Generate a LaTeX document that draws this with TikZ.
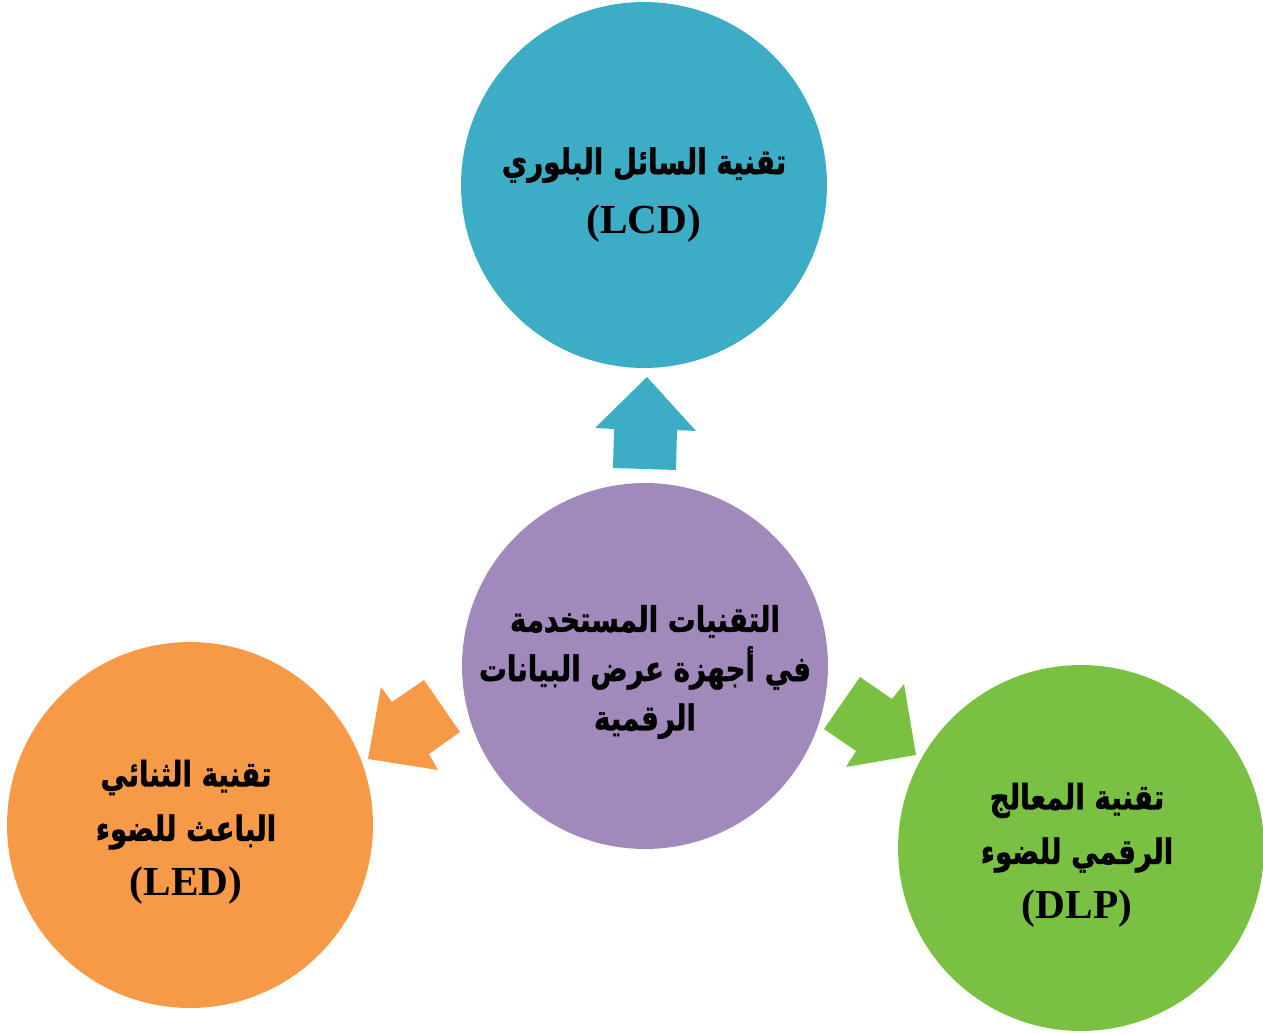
\documentclass[tikz,border=0pt]{standalone}
\usepackage{fontspec}
\TeXXeTstate=1
\newfontfamily\arabicfont[Script=Arabic, FakeStretch=0.79, FakeBold=1.2]{DejaVu Sans}
\newfontfamily\latinfont{Liberation Serif}
\definecolor{cteal}{RGB}{61,173,198}
\definecolor{cpurple}{RGB}{161,137,187}
\definecolor{corange}{RGB}{247,154,72}
\definecolor{cgreen}{RGB}{122,193,67}
\tikzset{
  circ/.style={circle, minimum size=7.32cm, inner sep=0pt},
  txt/.style={align=center, text=black, inner sep=0pt,
    font={\bfseries\fontsize{20}{31}\selectfont}},
}
\newcommand{\AR}[1]{{\arabicfont\bfseries\beginR #1\endR}}
\newcommand{\LT}[1]{{\latinfont\bfseries\fontsize{23.5}{31}\selectfont #1}}
\begin{document}
\begin{tikzpicture}[x=0.02cm,y=-0.02cm]
\useasboundingbox (0,0) rectangle (1263,1033);
% circles
\node[circ, fill=cteal] (lcd) at (644,185) {};
\node[circ, fill=cpurple] (core) at (645,666) {};
\node[circ, fill=corange] (led) at (190,825) {};
\node[circ, fill=cgreen] (dlp) at (1081,848) {};
% texts
\node[txt] (lcdt) at ([yshift=-0.2cm]lcd.center) {\AR{تقنية السائل البلوري}\\[3pt]\LT{(LCD)}};
\node[txt, font={\bfseries\fontsize{20}{28}\selectfont}] (coret) at ([yshift=-0.12cm]core.center)
  {\AR{التقنيات المستخدمة}\\\AR{في أجهزة عرض البيانات}\\\AR{الرقمية}};
\node[txt] (ledt) at ([xshift=-0.08cm,yshift=-0.14cm]led.center) {\AR{تقنية الثنائي}\\\AR{الباعث للضوء}\\\LT{(LED)}};
\node[txt] (dlpt) at ([xshift=-0.08cm,yshift=-0.14cm]dlp.center) {\AR{تقنية المعالج}\\\AR{الرقمي للضوء}\\\LT{(DLP)}};
% block arrows
\fill[cteal] (613,468) -- (614,429) -- (595,428) -- (647,377) -- (696,431) -- (677,430) -- (676,470) -- cycle;
\fill[corange] (460,732) -- (424,680) -- (392,702) -- (381,687) -- (368,759) -- (438,770) -- (429,754) -- cycle;
\fill[cgreen] (824,729) -- (860,677) -- (892,699) -- (904,684) -- (916,755) -- (846,767) -- (856,751) -- cycle;
\end{tikzpicture}
\end{document}
